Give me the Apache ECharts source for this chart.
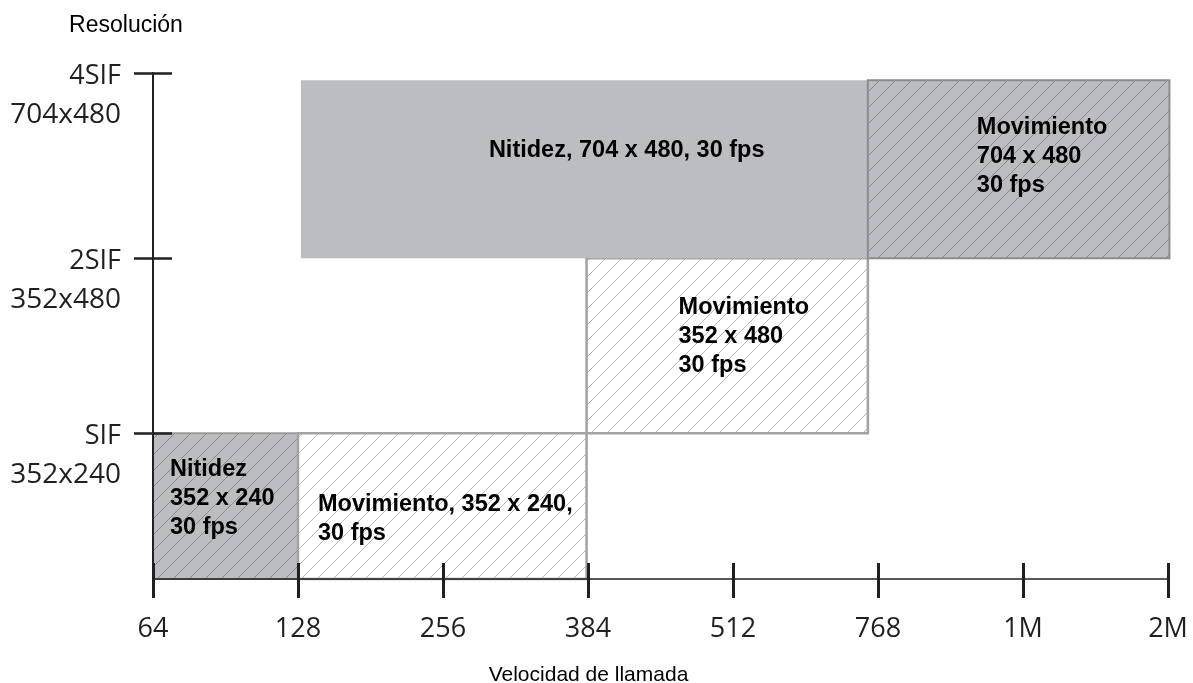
<!DOCTYPE html>
<html>
<head>
<meta charset="utf-8">
<title>Resolución vs. velocidad de llamada</title>
<script src="https://cdn.jsdelivr.net/npm/echarts@6/dist/echarts.min.js"></script>
<style>
  html, body { margin: 0; padding: 0; background: #ffffff; }
  #chart { width: 1193px; height: 683px; }
</style>
</head>
<body>
<div id="chart"></div>
<script>
// Call-rate steps along the horizontal axis (evenly spaced positions 0..7)
const rateLabels = ['64', '128', '256', '384', '512', '768', '1M', '2M'];

// Resolution levels on the vertical axis
const resLevels = [1, 2.2, 3.47];
const resNames = ['SIF', '2SIF', '4SIF'];
const resSizes = ['352x240', '352x480', '704x480'];

// Operating regions: call-rate span (x) and resolution span (y)
const regionText = [
  'Nitidez\n352 x 240\n30 fps',
  'Movimiento, 352 x 240,\n30 fps',
  'Movimiento\n352 x 480\n30 fps',
  'Nitidez, 704 x 480, 30 fps',
  'Movimiento\n704 x 480\n30 fps'
];
const regionRateFrom = [0, 1, 2.99, 1.02, 4.93];
const regionRateTo   = [1, 2.99, 4.93, 4.93, 7.01];
const regionResFrom  = [0, 0, 1, 2.2, 2.2];
const regionResTo    = [1, 1, 2.2, 3.42, 3.42];

// Look of each region (background, hatch colour, border) and caption offset
const regionLook = [
  { bg: '#bcbdc0', hatch: '#8a8a8d', stroke: '#9c9c9e', width: 2,   tx: 17,  ty: 36 },
  { bg: '#ffffff', hatch: '#b6b6b6', stroke: '#a2a2a2', width: 2.5, tx: 20,  ty: 71 },
  { bg: '#ffffff', hatch: '#b6b6b6', stroke: '#a2a2a2', width: 2.5, tx: 92,  ty: 49 },
  { bg: '#bcbdc0', hatch: null,      stroke: null,      width: 0,   tx: 188, ty: 70 },
  { bg: '#bcbdc0', hatch: '#8a8a8d', stroke: '#8c8c8e', width: 2,   tx: 109, ty: 47 }
];

const AXIS = '#231f20';
const HATCH_STEP = 16;

const regionData = regionText.map((t, i) =>
  [regionRateFrom[i], regionRateTo[i], regionResFrom[i], regionResTo[i], i]);

const chart = echarts.init(document.getElementById('chart'), null, { renderer: 'canvas' });

const labelFont = '"Open Sans", "DejaVu Sans", sans-serif';
const capFont = '"Liberation Sans", Arial, sans-serif';

// Diagonal "/" hatch lines covering a rectangle (clipped by the caller)
function hatchLines(x, y, w, h, color) {
  const lines = [];
  const top = y, bottom = y + h;
  const start = Math.floor((x + top) / HATCH_STEP) * HATCH_STEP;
  for (let c = start; c <= x + w + bottom + HATCH_STEP; c += HATCH_STEP) {
    lines.push({
      type: 'line',
      shape: { x1: c - bottom, y1: bottom, x2: c - top, y2: top },
      style: { stroke: color, lineWidth: 1 },
      silent: true
    });
  }
  return lines;
}

chart.setOption({
  animation: false,
  backgroundColor: '#ffffff',
  grid: { left: 153, right: 25, top: 73, bottom: 104, containLabel: false, outerBoundsMode: 'none' },
  xAxis: [
    {
      type: 'value', min: 0, max: 7, interval: 1, z: 5,
      name: 'Velocidad de llamada',
      nameLocation: 'middle',
      nameGap: 86,
      nameTextStyle: { fontFamily: capFont, fontSize: 21, color: '#000', padding: [0, 144, 0, 0] },
      axisLine: { show: true, lineStyle: { color: AXIS, width: 1.5 } },
      axisTick: { show: true, length: 19, lineStyle: { color: AXIS, width: 3 } },
      axisLabel: {
        margin: 37, fontFamily: labelFont, fontSize: 27, color: AXIS,
        formatter: v => rateLabels[Math.round(v)] || ''
      },
      splitLine: { show: false }
    },
    {
      type: 'value', min: 0, max: 7, interval: 1, position: 'bottom', offset: 0, z: 5,
      axisLine: { show: false },
      axisTick: { show: true, inside: true, length: 16, lineStyle: { color: AXIS, width: 3 } },
      axisLabel: { show: false },
      splitLine: { show: false }
    }
  ],
  yAxis: [
    {
      type: 'value', min: 0, max: 3.47, z: 5,
      name: 'Resolución',
      nameLocation: 'end',
      nameGap: 36,
      nameTextStyle: { fontFamily: capFont, fontSize: 23, color: '#000', padding: [0, 54, 0, 0] },
      axisLine: { show: true, lineStyle: { color: AXIS, width: 2 } },
      axisTick: { show: true, customValues: resLevels, length: 19, lineStyle: { color: AXIS, width: 2.5 } },
      axisLabel: {
        customValues: resLevels,
        margin: 32,
        verticalAlign: 'top',
        align: 'right',
        formatter: v => {
          let k = 0, best = Infinity;
          resLevels.forEach((r, j) => { if (Math.abs(r - v) < best) { best = Math.abs(r - v); k = j; } });
          return '{a|' + resNames[k] + '}\n{b|' + resSizes[k] + '}';
        },
        rich: {
          a: { fontFamily: labelFont, fontSize: 27, color: AXIS, lineHeight: 6, align: 'right' },
          b: { fontFamily: labelFont, fontSize: 28, color: AXIS, lineHeight: 72, align: 'right' }
        }
      },
      splitLine: { show: false }
    },
    {
      type: 'value', min: 0, max: 3.47, position: 'left', offset: 0, z: 5,
      axisLine: { show: false },
      axisTick: { show: true, inside: true, customValues: resLevels, length: 19, lineStyle: { color: AXIS, width: 2.5 } },
      axisLabel: { show: false },
      splitLine: { show: false }
    }
  ],
  series: [
    {
      type: 'custom',
      xAxisIndex: 0,
      yAxisIndex: 0,
      z: 2,
      data: regionData,
      renderItem: (params, api) => {
        const i = api.value(4);
        const look = regionLook[i];
        const tl = api.coord([api.value(0), api.value(3)]);
        const br = api.coord([api.value(1), api.value(2)]);
        const x = tl[0], y = tl[1], w = br[0] - tl[0], h = br[1] - tl[1];
        const children = [
          {
            type: 'rect',
            shape: { x: x, y: y, width: w, height: h },
            style: { fill: look.bg, stroke: 'none' }
          }
        ];
        if (look.hatch) {
          children.push({
            type: 'group',
            clipPath: { type: 'rect', shape: { x: x, y: y, width: w, height: h } },
            children: hatchLines(x, y, w, h, look.hatch)
          });
        }
        if (look.stroke) {
          children.push({
            type: 'rect',
            shape: { x: x, y: y, width: w, height: h },
            style: { fill: 'none', stroke: look.stroke, lineWidth: look.width }
          });
        }
        children.push({
          type: 'text',
          style: {
            x: x + look.tx,
            y: y + look.ty - 14.5,
            text: regionText[i],
            fill: '#000000',
            font: 'bold 23.5px ' + capFont,
            lineHeight: 29,
            align: 'left',
            verticalAlign: 'top'
          }
        });
        return { type: 'group', children: children };
      }
    }
  ]
});
</script>
</body>
</html>
